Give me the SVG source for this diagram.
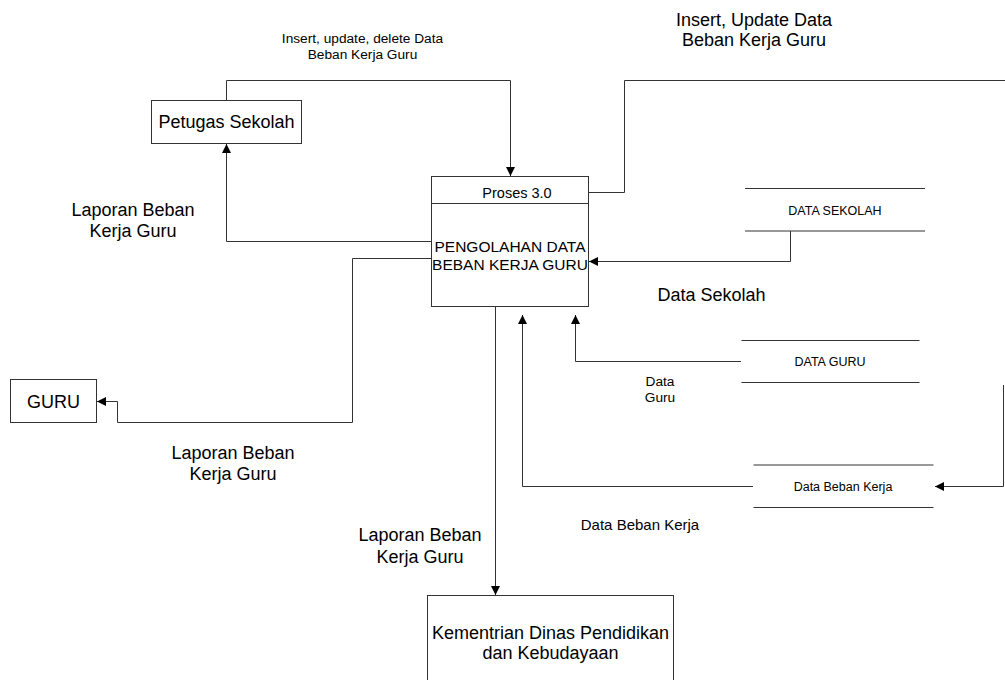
<svg xmlns="http://www.w3.org/2000/svg" width="1005" height="680" viewBox="0 0 1005 680">
<style>
.box{fill:#fff;stroke:#333;stroke-width:1}
.ln{fill:none;stroke:#333;stroke-width:1}
.t{font-family:"Liberation Sans",Arial,sans-serif;fill:#000;text-anchor:middle}
</style>
<defs>
<marker id="ah" viewBox="0 0 10 10" refX="10" refY="5" markerWidth="9" markerHeight="9" markerUnits="userSpaceOnUse" orient="auto">
<path d="M0,0 L10,5 L0,10 z" fill="#000"/>
</marker>
</defs>
<rect width="1005" height="680" fill="#fff"/>
<g id="connectors">
<polyline class="ln" points="226.5,100 226.5,80.5 510.5,80.5 510.5,176" marker-end="url(#ah)"/>
<polyline class="ln" points="432,241.5 226.5,241.5 226.5,144" marker-end="url(#ah)"/>
<polyline class="ln" points="432,258.5 352.5,258.5 352.5,422.5 117.5,422.5 117.5,401.5 97,401.5" marker-end="url(#ah)"/>
<polyline class="ln" points="589,192.5 624.5,192.5 624.5,80.5 1005,80.5"/>
<polyline class="ln" points="1003.5,385 1003.5,486.5 935,486.5" marker-end="url(#ah)"/>
<polyline class="ln" points="790.5,231 790.5,261.5 589,261.5" marker-end="url(#ah)"/>
<polyline class="ln" points="741,361.5 575.5,361.5 575.5,315" marker-end="url(#ah)"/>
<polyline class="ln" points="753,486.5 522.5,486.5 522.5,315" marker-end="url(#ah)"/>
<polyline class="ln" points="495.5,299 495.5,595" marker-end="url(#ah)"/>
</g>
<g id="petugas">
<rect class="box" x="151.5" y="100.5" width="150" height="43"/>
<text class="t" x="226.5" y="128" font-size="18">Petugas Sekolah</text>
</g>
<g id="proses">
<rect class="box" x="431.5" y="176.5" width="157" height="130"/>
<line class="ln" x1="431.5" y1="203.5" x2="588.5" y2="203.5"/>
<text class="t" x="517" y="198" font-size="14.5">Proses 3.0</text>
<text class="t" x="510" y="251.5" font-size="15.5">PENGOLAHAN DATA</text>
<text class="t" x="510" y="269.5" font-size="15.5">BEBAN KERJA GURU</text>
</g>
<g id="guru">
<rect class="box" x="10.5" y="379.5" width="86" height="43"/>
<text class="t" x="53.5" y="407.5" font-size="18">GURU</text>
</g>
<g id="kementrian">
<rect class="box" x="427.5" y="595.5" width="246" height="100"/>
<text class="t" x="550.5" y="639" font-size="18">Kementrian Dinas Pendidikan</text>
<text class="t" x="550.5" y="659" font-size="18">dan Kebudayaan</text>
</g>
<g id="ds-sekolah">
<line class="ln" x1="745" y1="188.5" x2="925" y2="188.5"/>
<line class="ln" x1="745" y1="231" x2="925" y2="231"/>
<text class="t" x="835" y="214.5" font-size="12.5">DATA SEKOLAH</text>
</g>
<g id="ds-guru">
<line class="ln" x1="741.5" y1="340.5" x2="919.5" y2="340.5"/>
<line class="ln" x1="741.5" y1="382.5" x2="919.5" y2="382.5"/>
<text class="t" x="830" y="366" font-size="12.5">DATA GURU</text>
</g>
<g id="ds-beban">
<line class="ln" x1="753.5" y1="465" x2="933.5" y2="465"/>
<line class="ln" x1="753.5" y1="507.5" x2="933.5" y2="507.5"/>
<text class="t" x="843" y="491" font-size="12.5">Data Beban Kerja</text>
</g>
<g id="labels">
<text class="t" x="362.5" y="43" font-size="13.7">Insert, update, delete Data</text>
<text class="t" x="362.5" y="59" font-size="13.7">Beban Kerja Guru</text>
<text class="t" x="754" y="25.5" font-size="18">Insert, Update Data</text>
<text class="t" x="754" y="46" font-size="18">Beban Kerja Guru</text>
<text class="t" x="133" y="216" font-size="18">Laporan Beban</text>
<text class="t" x="133" y="237" font-size="18">Kerja Guru</text>
<text class="t" x="711.5" y="301" font-size="18">Data Sekolah</text>
<text class="t" x="660" y="386" font-size="13.7">Data</text>
<text class="t" x="660" y="402" font-size="13.7">Guru</text>
<text class="t" x="233" y="459" font-size="18">Laporan Beban</text>
<text class="t" x="233" y="480" font-size="18">Kerja Guru</text>
<text class="t" x="640" y="530" font-size="15">Data Beban Kerja</text>
<text class="t" x="420" y="541" font-size="18">Laporan Beban</text>
<text class="t" x="420" y="563" font-size="18">Kerja Guru</text>
</g>
</svg>
